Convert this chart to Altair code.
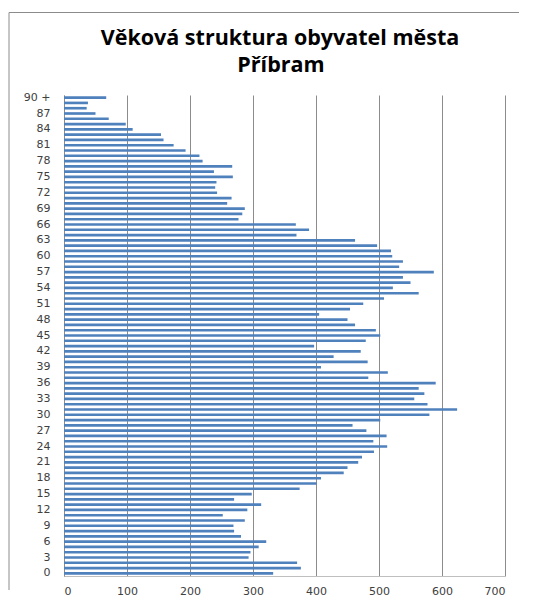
import altair as alt
import pandas as pd

# Age categories, youngest first (0 ... 89, then "90 +")
ages = [str(a) for a in range(90)] + ["90 +"]

# Number of inhabitants per age, same order as ages
population = [
    332, 376, 370, 293, 296, 309, 321, 281, 270, 269,
    287, 252, 291, 313, 270, 298, 374, 401, 408, 444,
    450, 467, 473, 492, 513, 491, 512, 480, 458, 502,
    580, 624, 577, 556, 572, 563, 590, 483, 514, 408,
    482, 428, 471, 397, 479, 502, 495, 462, 450, 405,
    454, 475, 508, 563, 522, 550, 538, 587, 532, 538,
    521, 519, 497, 462, 369, 389, 368, 277, 283, 287,
    259, 266, 243, 240, 242, 268, 238, 267, 220, 215,
    193, 174, 158, 154, 109, 98, 71, 50, 36, 38,
    67,
]

age_tick_labels = ["0", "3", "6", "9", "12", "15", "18", "21", "24", "27",
                   "30", "33", "36", "39", "42", "45", "48", "51", "54", "57",
                   "60", "63", "66", "69", "72", "75", "78", "81", "84", "87", "90 +"]
value_ticks = [0, 100, 200, 300, 400, 500, 600, 700]
title_lines = ["Věková struktura obyvatel města", "Příbram"]

df = pd.DataFrame({"age": ages, "count": population})
top_to_bottom = ages[::-1]

W, H = 441, 481
GRID = "#8c8c8c"
LABEL_FONT = "DejaVu Sans"

bars = alt.Chart(df).mark_bar(color="#4F81BD").encode(
    x=alt.X(
        "count:Q",
        scale=alt.Scale(domain=[0, 700], nice=False),
        axis=alt.Axis(
            values=value_ticks, title=None, grid=True, gridColor=GRID,
            ticks=False, domainColor="#bfbfbf", labelFont=LABEL_FONT,
            labelFontSize=11, labelColor="#404040", labelPadding=9,
        ),
    ),
    y=alt.Y(
        "age:N",
        sort=top_to_bottom,
        scale=alt.Scale(paddingInner=0.5, paddingOuter=0.25),
        axis=alt.Axis(
            values=age_tick_labels, title=None, ticks=False,
            domainColor=GRID, labelFont=LABEL_FONT, labelFontSize=11,
            labelColor="#404040", labelPadding=14,
        ),
    ),
)

frame_df = pd.DataFrame({"k": [0]})
frame_top = alt.Chart(frame_df).mark_rule(color=GRID, strokeWidth=1).encode(
    x=alt.value(-55), x2=alt.value(455), y=alt.value(-82.5)
)
frame_left = alt.Chart(frame_df).mark_rule(color=GRID, strokeWidth=1).encode(
    x=alt.value(-55), y=alt.value(-82.5), y2=alt.value(495)
)

t1 = alt.Chart(pd.DataFrame({"t": [title_lines[0]]})).mark_text(
    font="Open Sans", fontWeight="bold", fontSize=21.5, align="center",
    baseline="alphabetic", color="black",
).encode(text="t:N", x=alt.value(216), y=alt.value(-50))

t2 = alt.Chart(pd.DataFrame({"t": [title_lines[1]]})).mark_text(
    font="Open Sans", fontWeight="bold", fontSize=21.5, align="center",
    baseline="alphabetic", color="black",
).encode(text="t:N", x=alt.value(217), y=alt.value(-23))

chart = alt.layer(frame_top, frame_left, bars, t1, t2).properties(
    width=W, height=H,
    padding={"left": 0, "top": 4, "right": 0, "bottom": 0},
).configure_view(stroke="transparent")

chart.save("out.html", embed_options={"renderer": "svg", "actions": False})
